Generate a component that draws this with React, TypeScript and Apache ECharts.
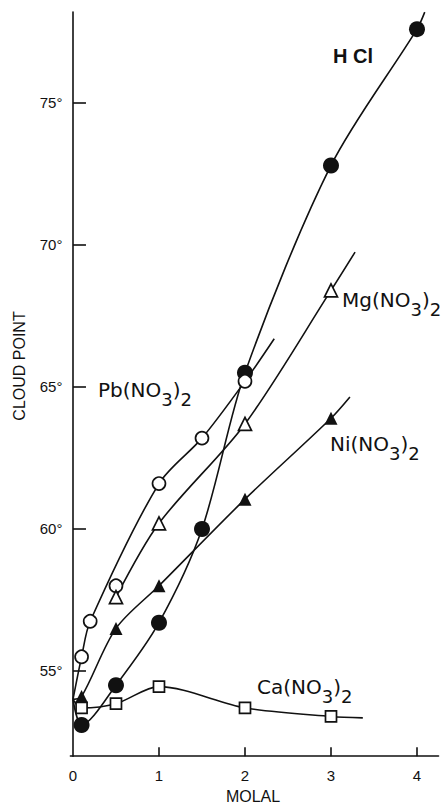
import React, { useEffect, useRef } from 'react';
import * as echarts from 'echarts';

// ---- data ----
const xLabelValues = [0, 1, 2, 3, 4];
const xTickValues = [1, 2, 3, 4];
const yTickValues = [55, 60, 65, 70, 75];

// cloud point of pure solution at 0 molal (curves start here)
const originMolal = 0;
const originCloud = 54.0;

const hclMolal = [0.1, 0.5, 1.0, 1.5, 2.0, 3.0, 4.0];
const hclCloud = [53.1, 54.5, 56.7, 60.0, 65.5, 72.8, 77.6];
const hclCurveEnd = [4.09, 78.2];

const pbMolal = [0.1, 0.2, 0.5, 1.0, 1.5, 2.0];
const pbCloud = [55.5, 56.75, 58.0, 61.6, 63.2, 65.2];
const pbCurveEnd = [2.34, 66.7];
// the hand-drawn Pb curve passes slightly above the 0.5 molal point
const pbCurveSkip = [0.5];

const mgMolal = [0.5, 1.0, 2.0, 3.0];
const mgCloud = [57.6, 60.2, 63.7, 68.4];
const mgCurveEnd = [3.28, 69.75];

const niMolal = [0.1, 0.5, 1.0, 2.0, 3.0];
const niCloud = [54.1, 56.5, 58.0, 61.05, 63.9];
const niCurveEnd = [3.22, 64.65];

const caMolal = [0.1, 0.5, 1.0, 2.0, 3.0];
const caCloud = [53.7, 53.85, 54.45, 53.7, 53.4];
const caCurveEnd = [3.37, 53.35];

const INK = '#111';

function pts(xs: number[], ys: number[]) {
  return xs.map((x, i) => [x, ys[i]]);
}

function curve(xs: number[], ys: number[], end: number[], fromOrigin: boolean, skip: number[] = []) {
  const p = pts(xs, ys).filter((d) => skip.indexOf(d[0]) < 0);
  return [...(fromOrigin ? [[originMolal, originCloud]] : []), ...p, end];
}

function lineSeries(data: number[][]) {
  return {
    type: 'line',
    data,
    smooth: 0.3,
    symbol: 'none',
    lineStyle: { color: INK, width: 1.6 },
    z: 2,
    silent: true,
  };
}

function markerSeries(data: number[][], symbol: string, size: number, filled: boolean) {
  return {
    type: 'scatter',
    data,
    symbol,
    symbolSize: size,
    itemStyle: {
      color: filled ? INK : '#fff',
      borderColor: INK,
      borderWidth: filled ? 0 : 1.7,
      opacity: 1,
    },
    z: 3,
    silent: true,
  };
}

function chem(main: string): string {
  return `{a|${main}(NO}{s|3}{a|)}{s|2}`;
}

const chemRich = {
  a: { fontSize: 20, fontFamily: 'DejaVu Sans', fill: INK },
  s: { fontSize: 18, fontFamily: 'DejaVu Sans', fill: INK, padding: [18, 0, 0, 0] },
};

export default function App() {
  const ref = useRef<HTMLDivElement>(null);

  useEffect(() => {
    if (!ref.current) return;
    const chart = echarts.init(ref.current, null, { renderer: 'svg' });
    const option: any = {
      animation: false,
      backgroundColor: '#fff',
      grid: { left: 70.4, right: 8.5, top: 12.1, bottom: 46.8, containLabel: false },
      xAxis: {
        type: 'value',
        min: -0.03,
        max: 4.25,
        splitLine: { show: false },
        axisLine: { show: true, lineStyle: { color: INK, width: 1.6 } },
        axisTick: {
          show: true,
          inside: true,
          length: 9,
          customValues: xTickValues,
          lineStyle: { color: INK, width: 1.6 },
        },
        axisLabel: {
          customValues: xLabelValues,
          margin: 12,
          color: INK,
          fontSize: 15,
          fontFamily: 'Liberation Sans',
        },
      },
      yAxis: {
        type: 'value',
        min: 52,
        max: 78.2,
        splitLine: { show: false },
        axisLine: { show: true, lineStyle: { color: INK, width: 1.6 } },
        axisTick: {
          show: true,
          inside: true,
          length: 13,
          customValues: yTickValues,
          lineStyle: { color: INK, width: 1.6 },
        },
        axisLabel: {
          customValues: yTickValues,
          margin: 8,
          color: INK,
          fontSize: 15,
          fontFamily: 'Liberation Sans',
          formatter: (v: number) => `${v}°`,
        },
      },
      series: [
        lineSeries(curve(caMolal, caCloud, caCurveEnd, true)),
        lineSeries(curve(niMolal, niCloud, niCurveEnd, true)),
        lineSeries(curve(mgMolal, mgCloud, mgCurveEnd, false)),
        lineSeries(curve(pbMolal, pbCloud, pbCurveEnd, true, pbCurveSkip)),
        lineSeries(curve(hclMolal, hclCloud, hclCurveEnd, true)),
        markerSeries(pts(hclMolal, hclCloud), 'circle', 16, true),
        markerSeries(pts(caMolal, caCloud), 'rect', 11, false),
        markerSeries(pts(niMolal, niCloud), 'triangle', 13, true),
        markerSeries(pts(pbMolal, pbCloud), 'circle', 13, false),
        markerSeries(pts(mgMolal, mgCloud), 'triangle', 13, false),
      ],
      graphic: [
        {
          type: 'text',
          x: 333,
          y: 56,
          style: {
            text: 'H Cl',
            fill: INK,
            font: 'bold 20px "Liberation Sans"',
            align: 'left',
            verticalAlign: 'middle',
          },
        },
        {
          type: 'text',
          x: 342,
          y: 300,
          style: { text: chem('Mg'), rich: chemRich, align: 'left', verticalAlign: 'middle' },
        },
        {
          type: 'text',
          x: 98,
          y: 390,
          style: { text: chem('Pb'), rich: chemRich, align: 'left', verticalAlign: 'middle' },
        },
        {
          type: 'text',
          x: 330,
          y: 444,
          style: { text: chem('Ni'), rich: chemRich, align: 'left', verticalAlign: 'middle' },
        },
        {
          type: 'text',
          x: 257,
          y: 687,
          style: { text: chem('Ca'), rich: chemRich, align: 'left', verticalAlign: 'middle' },
        },
        {
          type: 'text',
          x: 19,
          y: 366,
          rotation: Math.PI / 2,
          style: {
            text: 'CLOUD POINT',
            fill: INK,
            font: '16px "Liberation Sans"',
            align: 'center',
            verticalAlign: 'middle',
          },
        },
        {
          type: 'text',
          x: 253,
          y: 796,
          style: {
            text: 'MOLAL',
            fill: INK,
            font: '16px "Liberation Sans"',
            align: 'center',
            verticalAlign: 'middle',
          },
        },
      ],
    };
    chart.setOption(option);
    return () => chart.dispose();
  }, []);

  return (
    <div
      ref={ref}
      style={{ position: 'fixed', left: 0, top: 0, width: 447, height: 803, background: '#fff' }}
    />
  );
}
